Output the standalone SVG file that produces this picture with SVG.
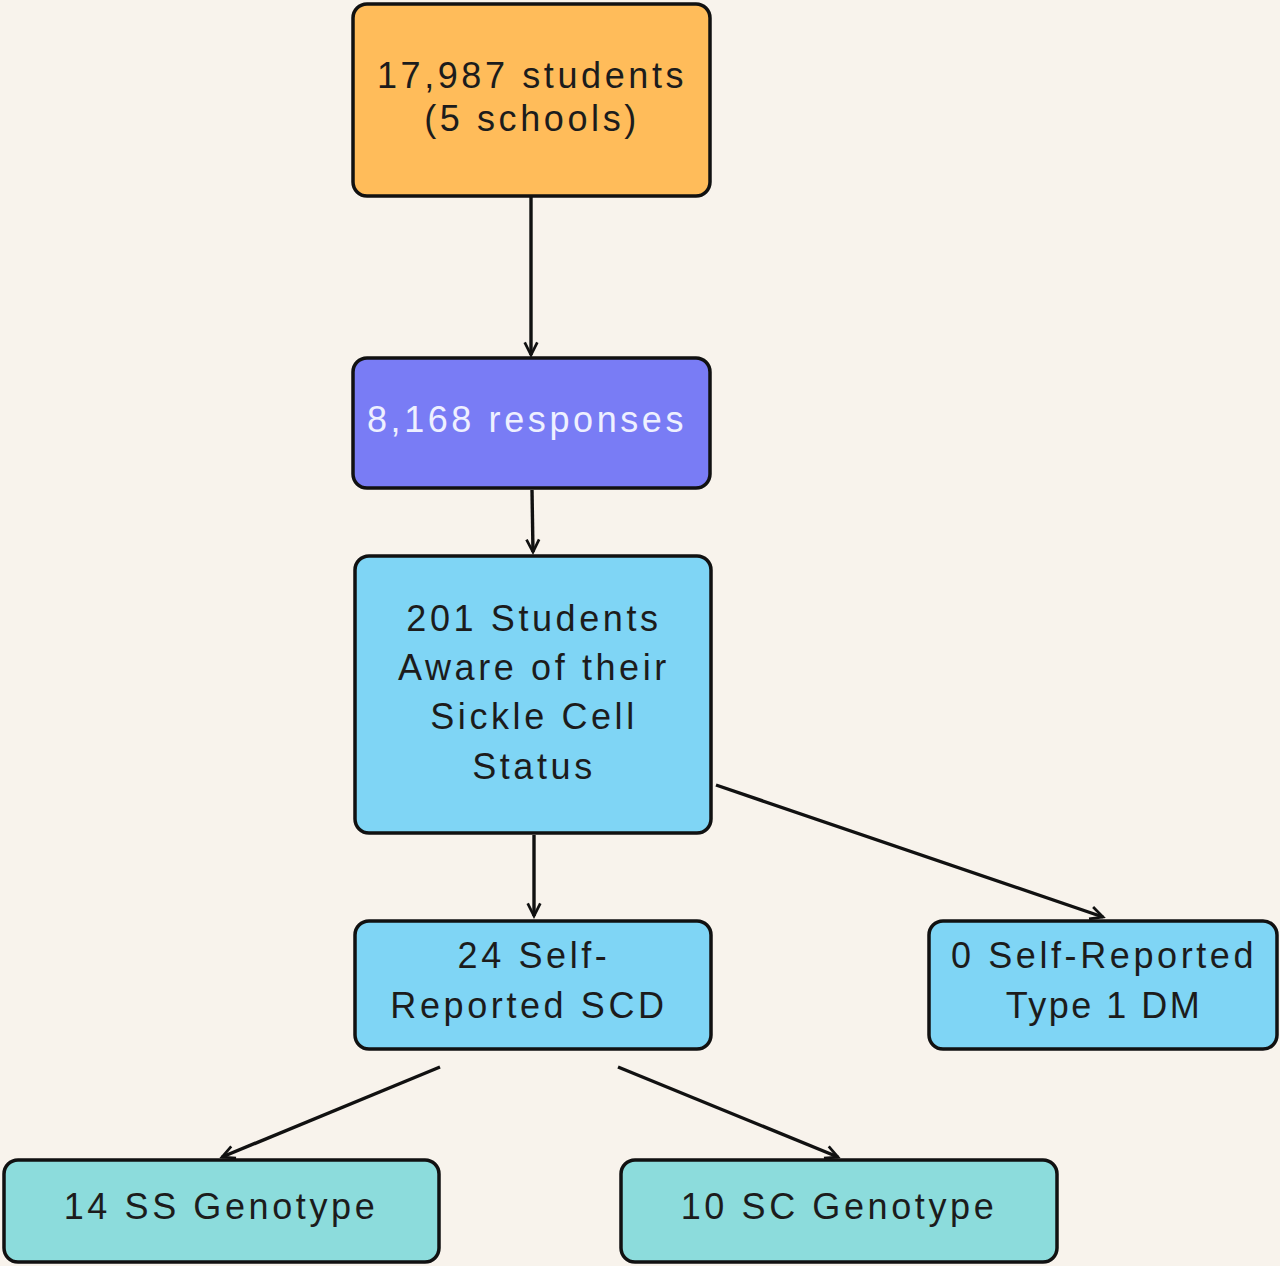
<svg xmlns="http://www.w3.org/2000/svg" width="1280" height="1266" viewBox="0 0 1280 1266">
<defs>
<marker id="arr" viewBox="0 0 20 20" refX="17" refY="10" markerWidth="18" markerHeight="18" markerUnits="userSpaceOnUse" orient="auto">
<path d="M3,3 L17,10 L3,17" fill="none" stroke="#111" stroke-width="3" stroke-linejoin="miter"/>
</marker>
<style>
.box{stroke:#111;stroke-width:3.5}
.t{font-family:"Liberation Sans",Arial,sans-serif;font-size:36px;letter-spacing:3.6px;fill:#1c1c1c;text-anchor:middle}
.e{stroke:#111;stroke-width:3.4;fill:none;marker-end:url(#arr)}
</style>
</defs>
<rect width="1280" height="1266" fill="#F8F3EC"/>
<g id="connectors">
<line class="e" x1="531" y1="197" x2="531" y2="355"/>
<line class="e" x1="532" y1="490" x2="533" y2="552"/>
<line class="e" x1="534" y1="835" x2="534" y2="916"/>
<line class="e" x1="716" y1="785" x2="1103" y2="917"/>
<line class="e" x1="440" y1="1067" x2="222" y2="1157"/>
<line class="e" x1="618" y1="1067" x2="838" y2="1157"/>
</g>
<g id="n1">
<rect class="box" x="353" y="4" width="357" height="192" rx="14" fill="#FFBC5A"/>
<text class="t" x="532" y="88">17,987 students</text>
<text class="t" x="532" y="131">(5 schools)</text>
</g>
<g id="n2">
<rect class="box" x="353" y="358" width="357" height="130" rx="14" fill="#797CF5"/>
<text class="t" x="527" y="432" style="fill:#EEF0FF">8,168 responses</text>
</g>
<g id="n3">
<rect class="box" x="355" y="556" width="356" height="277" rx="14" fill="#7FD5F5"/>
<text class="t" x="534" y="631">201 Students</text>
<text class="t" x="534" y="680">Aware of their</text>
<text class="t" x="534" y="729">Sickle Cell</text>
<text class="t" x="534" y="779">Status</text>
</g>
<g id="n4">
<rect class="box" x="355" y="921" width="356" height="128" rx="14" fill="#7FD5F5"/>
<text class="t" x="534" y="968">24 Self-</text>
<text class="t" x="529" y="1018">Reported SCD</text>
</g>
<g id="n5">
<rect class="box" x="929" y="921" width="348" height="128" rx="14" fill="#7FD5F5"/>
<text class="t" x="1104" y="968">0 Self-Reported</text>
<text class="t" x="1104" y="1018" style="letter-spacing:2.5px">Type 1 DM</text>
</g>
<g id="n6">
<rect class="box" x="4" y="1160" width="435" height="102" rx="14" fill="#8CDCDC"/>
<text class="t" x="221" y="1219">14 SS Genotype</text>
</g>
<g id="n7">
<rect class="box" x="621" y="1160" width="436" height="102" rx="14" fill="#8CDCDC"/>
<text class="t" x="839" y="1219">10 SC Genotype</text>
</g>
</svg>
